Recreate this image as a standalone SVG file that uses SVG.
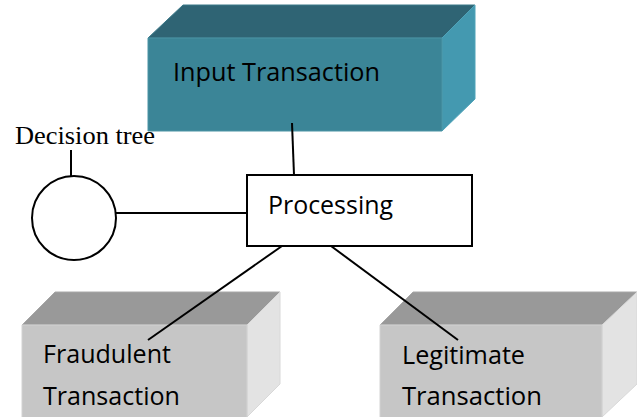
<svg xmlns="http://www.w3.org/2000/svg" width="637" height="417" viewBox="0 0 637 417">
  <style>
    .lbl { font-family: "Open Sans", "Noto Sans", sans-serif; font-size: 25px; fill: #000; }
    .serif { font-family: "Liberation Serif", "Times New Roman", serif; font-size: 26px; fill: #000; }
    .wire { stroke: #000; stroke-width: 2; fill: none; }
    .edge { stroke-width: 1; stroke-linejoin: round; }
  </style>
  <rect width="637" height="417" fill="#fff"/>

  <!-- input transaction (teal block) -->
  <g id="input">
    <polygon class="edge" points="148,38 183,5 475,5 442,38" fill="#2F6474" stroke="#3A7888"/>
    <polygon class="edge" points="442,38 475,5 475,99 442,131" fill="#4499B0" stroke="#4FA3B9"/>
    <rect class="edge" x="148" y="38" width="294" height="93" fill="#3B8597" stroke="#4A93A4"/>
    <text class="lbl" x="173" y="81" textLength="207" lengthAdjust="spacingAndGlyphs">Input Transaction</text>
  </g>

  <!-- decision tree -->
  <g id="decision-tree">
    <circle cx="74" cy="218" r="42" fill="#fff" stroke="#000" stroke-width="2"/>
    <text class="serif" x="15" y="144" textLength="140" lengthAdjust="spacingAndGlyphs">Decision tree</text>
  </g>

  <!-- fraudulent transaction (grey block) -->
  <g id="fraudulent">
    <polygon class="edge" points="22,325 55,292 280,292 247,325" fill="#999999" stroke="#A8A8A8"/>
    <polygon class="edge" points="247,325 280,292 280,384 247,417" fill="#E3E3E3" stroke="#D8D8D8"/>
    <rect class="edge" x="22" y="325" width="225" height="95" fill="#C6C6C6" stroke="#D2D2D2"/>
    <text class="lbl" x="43" y="363" textLength="128" lengthAdjust="spacingAndGlyphs">Fraudulent</text>
    <text class="lbl" x="43" y="405" textLength="137" lengthAdjust="spacingAndGlyphs">Transaction</text>
  </g>

  <!-- legitimate transaction (grey block) -->
  <g id="legitimate">
    <polygon class="edge" points="380,325 413,292 637,292 604,325" fill="#999999" stroke="#A8A8A8"/>
    <polygon class="edge" points="602,325 637,292 637,384 602,417" fill="#E3E3E3" stroke="#D8D8D8"/>
    <rect class="edge" x="380" y="325" width="222" height="95" fill="#C6C6C6" stroke="#D2D2D2"/>
    <text class="lbl" x="402" y="364" textLength="123" lengthAdjust="spacingAndGlyphs">Legitimate</text>
    <text class="lbl" x="402" y="405" textLength="140" lengthAdjust="spacingAndGlyphs">Transaction</text>
  </g>

  <!-- connectors (drawn over the blocks they reach into) -->
  <g id="connectors" class="wire">
    <line x1="292" y1="123" x2="294" y2="175"/>
    <line x1="116" y1="213" x2="247" y2="213"/>
    <line x1="71" y1="150" x2="71" y2="176"/>
    <line x1="282" y1="246" x2="148" y2="340"/>
    <line x1="331" y1="246" x2="458" y2="340"/>
  </g>

  <!-- processing -->
  <g id="processing">
    <rect x="247" y="175" width="225" height="71" fill="#fff" stroke="#000" stroke-width="2"/>
    <text class="lbl" x="268" y="214" textLength="125" lengthAdjust="spacingAndGlyphs">Processing</text>
  </g>
</svg>
